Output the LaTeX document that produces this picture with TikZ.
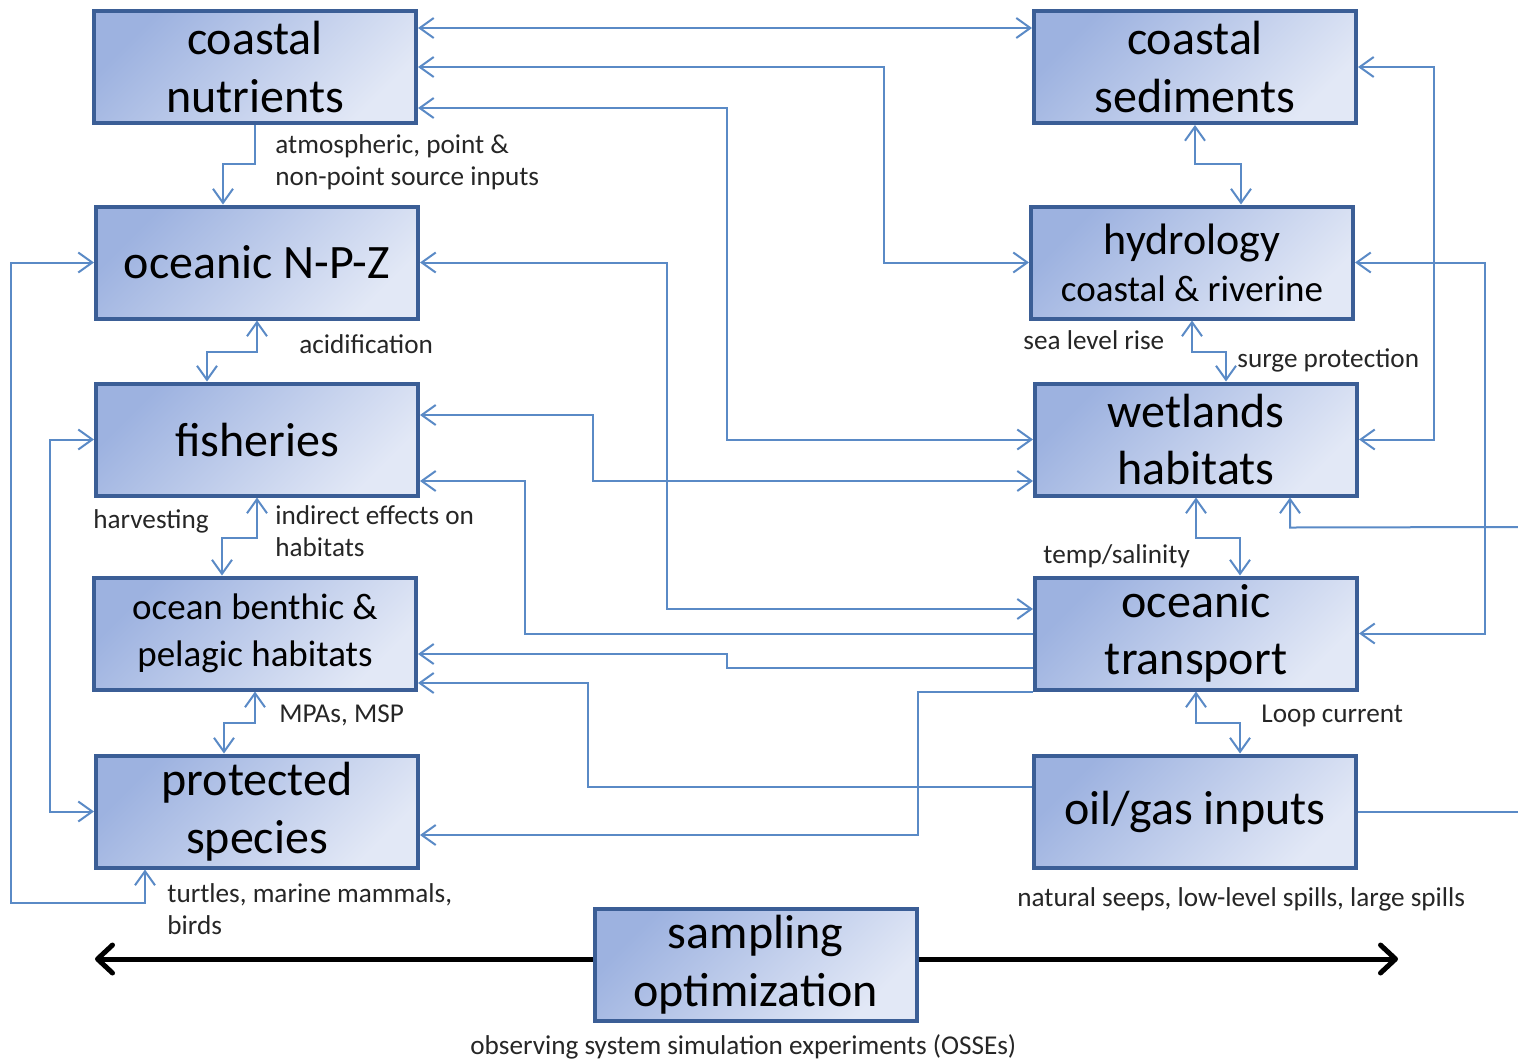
\documentclass[tikz,border=0pt]{standalone}
\usepackage{fontspec}
\setmainfont{Carlito}
\usetikzlibrary{arrows.meta}
\definecolor{boxline}{HTML}{3B5E96}
\definecolor{boxdark}{HTML}{9DB2E0}
\definecolor{boxlight}{HTML}{E2E8F6}
\definecolor{linkblue}{HTML}{5A8AC6}
\tikzset{
  box/.style={draw=boxline,line width=2pt,left color=boxdark,right color=boxlight,shading angle=45,
    minimum width=161pt,minimum height=56pt,inner sep=0pt,align=center,font=\fontsize{24}{28.8}\selectfont},
  midbox/.style={box,font=\fontsize{18.5}{23.5}\selectfont},
  link/.style={draw=linkblue,line width=1pt,arrows={-},
    >={Straight Barb[length=7pt,width=10pt,line width=1pt]}},
  lbl/.style={anchor=west,inner sep=0pt,text=black!85,font=\fontsize{13.6}{16}\selectfont},
  bigarrow/.style={line width=2.5pt,-{Straight Barb[length=7.5pt,width=14pt,line width=2.5pt,round]}}
}
\begin{document}
\begin{tikzpicture}[x=0.5pt,y=-0.5pt]
        \useasboundingbox (0,0) rectangle (1518,1061);
        \node[box] (nutr) at (255,67) {coastal\\nutrients};
        \node[box] (npz) at (257,262.5) {oceanic N-P-Z};
        \node[box] (fish) at (257,439.5) {fisheries};
        \node[midbox] (benth) at (255,633.5) {ocean benthic \&\\pelagic habitats};
        \node[box] (prot) at (257,811.5) {protected\\species};
        \node[box] (sedi) at (1195,67) {coastal\\sediments};
        \node[midbox] (hydro) at (1192,262.5) {\fontsize{22}{22}\selectfont hydrology\\coastal \& riverine};
        \node[box] (wet) at (1196,439.5) {wetlands\\habitats};
        \node[box] (trans) at (1196,633.5) {oceanic\\transport};
        \node[box] (oil) at (1195,811.5) {oil/gas inputs};
        \node[box] (samp) at (755.5,964.5) {sampling\\optimization};
        \coordinate (offA) at (1518,527);
        \coordinate (leftend) at (95,959);
        \coordinate (rightend) at (1398,959);
        \draw[link,->] (nutr.south) -- ++(0,39) -| ([xshift=-17pt]npz.north);
        \draw[link,<->] (npz.south) -- ++(0,31) -| ([xshift=-25pt]fish.north);
        \draw[link,<->] (fish.south) -- ++(0,40) -| ([xshift=-16.5pt]benth.north);
        \draw[link,<->] (benth.south) -- ++(0,31) -| ([xshift=-16.5pt]prot.north);
        \draw[link,<->] ([xshift=-56pt]prot.south) -- ++(0,33) -| ([xshift=-41.5pt]npz.west) -- (npz.west);
        \draw[link,<->] (fish.west) -- ++(-44,0) |- (prot.west);
        \draw[link,<->] (sedi.south) -- ++(0,39) -| ([xshift=24.5pt]hydro.north);
        \draw[link,<->] (hydro.south) -- ++(0,31) -| ([xshift=15pt]wet.north);
        \draw[link,<->] (wet.south) -- ++(0,40) -| ([xshift=22pt]trans.north);
        \draw[link,<->] (trans.south) -- ++(0,31) -| ([xshift=22.5pt]oil.north);
        \draw[link,<->] (sedi.east) -- ++(76,0) |- (wet.east);
        \draw[link,<->] (hydro.east) -- ++(130,0) |- (trans.east);
        \draw[link,<-] ([xshift=47pt]wet.south) -- ++(0,30) -- (offA);
        \draw[link] (oil.east) -- (oil.east -| offA);
        \draw[link,<->] ([yshift=19.5pt]nutr.east) -- ([yshift=19.5pt]sedi.west);
        \draw[link,<->] (nutr.east) -| ([xshift=-72.5pt]hydro.west) -- (hydro.west);
        \draw[link,<->] ([yshift=-20.5pt]nutr.east) -| ([xshift=-153pt]wet.west) -- (wet.west);
        \draw[link,<->] (npz.east) -| ([xshift=-183pt,yshift=12.25pt]trans.west) -- ([yshift=12.25pt]trans.west);
        \draw[link,<->] ([yshift=12.25pt]fish.east) -| ([xshift=-220pt,yshift=-20.75pt]wet.west) -- ([yshift=-20.75pt]wet.west);
        \draw[link,->] (trans.west) -- ++(-508,0) |- ([yshift=-20.75pt]fish.east);
        \draw[link,->] ([yshift=-17.25pt]trans.west) -- ++(-306,0) |- ([yshift=-10.25pt]benth.east);
        \draw[link,->] ([yshift=12.25pt]oil.west) -- ++(-444,0) |- ([yshift=-24.75pt]benth.east);
        \draw[link,->] (trans.south west) -- ++(-115,0) |- ([yshift=-11.75pt]prot.east);
        \draw[bigarrow] ([yshift=2.75pt]samp.west) -- (leftend);
        \draw[bigarrow] ([yshift=2.75pt]samp.east) -- (rightend);
        \node[lbl,align=left] (lbinput) at (275,162) {atmospheric, point \&\\non-point source inputs};
        \node[lbl] (lbacid) at (299,344) {acidification};
        \node[lbl] (lbharv) at (93,521) {harvesting};
        \node[lbl,align=left] (lbindir) at (275,531) {indirect effects on\\habitats};
        \node[lbl] (lbmpa) at (279,715) {MPAs, MSP};
        \node[lbl,align=left] (lbturt) at (167,909) {turtles, marine mammals,\\birds};
        \node[lbl] (lbsea) at (1023,340) {sea level rise};
        \node[lbl] (lbsurge) at (1237,360) {surge protection};
        \node[lbl] (lbtemp) at (1043,556) {temp/salinity};
        \node[lbl] (lbloop) at (1261,716) {Loop current};
        \node[lbl] (lbseeps) at (1017,899) {natural seeps, low-level spills, large spills};
        \node[lbl] (lbosse) at (470,1047) {observing system simulation experiments (OSSEs)};
      \end{tikzpicture}
\end{document}
